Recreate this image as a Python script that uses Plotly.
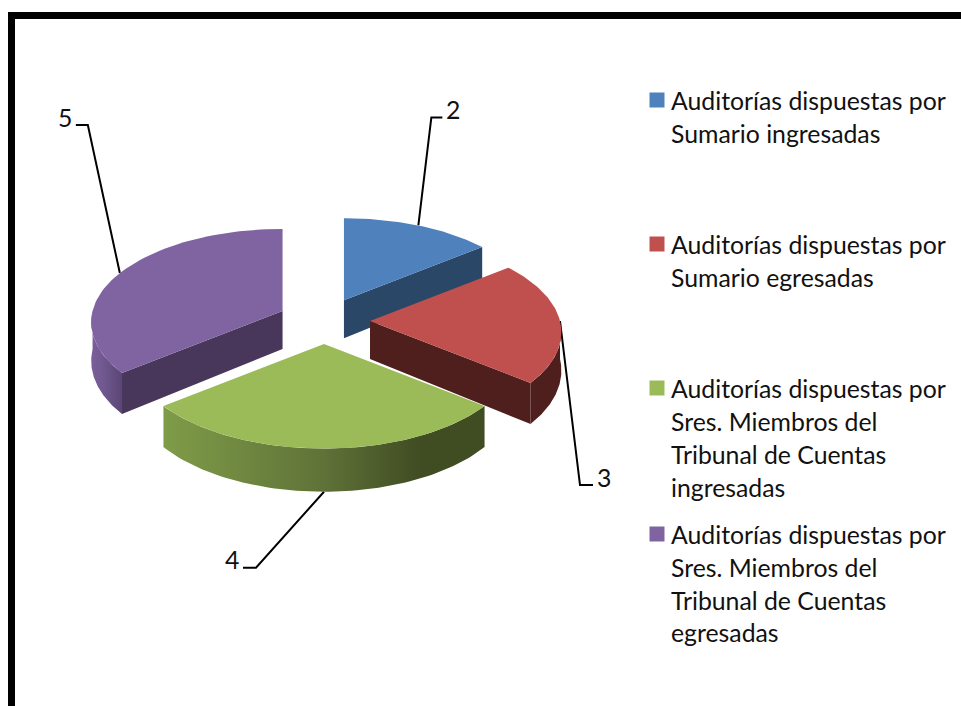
import math
import plotly.graph_objects as go

# Data
categories = [
    ["Auditorías dispuestas por", "Sumario ingresadas"],
    ["Auditorías dispuestas por", "Sumario egresadas"],
    ["Auditorías dispuestas por", "Sres. Miembros del", "Tribunal de Cuentas", "ingresadas"],
    ["Auditorías dispuestas por", "Sres. Miembros del", "Tribunal de Cuentas", "egresadas"],
]
values = [2, 3, 4, 5]

# Style
top_colors = ["#4f81bd", "#c0504d", "#9bbb59", "#8064a2"]
wall_colors = ["#2a4768", "#4f1f1d", "#404c22", "#48375a"]
rim_scales = [
    None,
    [[0, "#4f1f1d"], [1, "#4f1f1d"]],
    [[0, "#7f9c48"], [0.5, "#5f7238"], [0.8, "#404c22"], [1, "#404c22"]],
    [[0, "#7a5f9c"], [0.4, "#70588f"], [1, "#5a4674"]],
]
CX, CY, EX, EY = 324, 321, 46, 23     # pie centre and explosion
RX, RY, PERSP, DEPTH = 190, 92, 0.12, 38
FONT = "Lato"
FS = 24.8
leader_offsets = [[(13, -108), (24, -108)], [(20, 164), (33, 164)], [(-68, 76), (-81, 76)], [(-32, -148), (-44, -148)]]
leader_bottom = [False, False, True, False]
legend_y = [[100.5, 133], [244.5, 277.5], [388.5, 421, 454.5, 487.5], [534.5, 567, 600, 632.5]]
marker_y = [100, 244, 388, 534]
label_dy = -8


def proj(ang, ox, oy, r=1.0, down=0.0):
    X, Y = r * math.sin(ang), r * math.cos(ang)
    s = 1 / (1 + PERSP * Y)
    return ox + RX * X * s, oy - RY * Y * s + down * s


def arc(a0, a1, ox, oy, down=0.0, n=70):
    pts = [proj(a0 + (a1 - a0) * i / n, ox, oy, 1.0, down) for i in range(n + 1)]
    return pts


total = sum(values)
fig = go.Figure()
slices = []
acc = 0
for v in values:
    a0 = acc / total * 2 * math.pi
    acc += v
    a1 = acc / total * 2 * math.pi
    mid = (a0 + a1) / 2
    ox = CX + EX * math.sin(mid)
    oy = CY - EY * math.cos(mid)
    slices.append((a0, a1, mid, ox, oy))


def poly(pts, color=None, grad=None):
    xs = [p[0] for p in pts] + [pts[0][0]]
    ys = [p[1] for p in pts] + [pts[0][1]]
    kw = dict(x=xs, y=ys, mode="lines", fill="toself", line=dict(width=0), hoverinfo="skip", showlegend=False)
    if grad:
        kw["fillgradient"] = dict(type="horizontal", colorscale=grad, start=min(xs), stop=max(xs))
    else:
        kw["fillcolor"] = color
    fig.add_trace(go.Scatter(**kw))


# Leader lines are drawn first so that slices sit over their ends
for i in [0, 1, 2, 3]:
    a0, a1, mid, ox, oy = slices[i]
    p = proj(mid, ox, oy, 1.0, DEPTH if leader_bottom[i] else 0)
    pts = [p] + [(p[0] + dx, p[1] + dy) for dx, dy in leader_offsets[i]]
    fig.add_trace(go.Scatter(x=[q[0] for q in pts], y=[q[1] for q in pts], mode="lines",
                             line=dict(color="black", width=2), hoverinfo="skip", showlegend=False))
    end = pts[-1]
    side = 1 if leader_offsets[i][-1][0] > leader_offsets[i][0][0] else -1
    fig.add_annotation(x=end[0] + side * 11, y=end[1] + label_dy, text=str(values[i]), showarrow=False,
                       font=dict(family=FONT, size=FS, color="#111111"), xanchor="center", yanchor="middle")

# Slices, back to front
for i in [0, 3, 1, 2]:
    a0, a1, mid, ox, oy = slices[i]
    # radial wall facing the viewer
    wall_a = {0: a1, 1: a1, 3: a0}.get(i)
    if wall_a is not None:
        e = proj(wall_a, ox, oy)
        e2 = proj(wall_a, ox, oy, 1.0, DEPTH)
        poly([(ox, oy), e, e2, (ox, oy + DEPTH)], wall_colors[i])
    # outer rim, only its front part shows
    r0, r1 = max(a0, math.pi / 2), min(a1, 3 * math.pi / 2)
    if r1 > r0:
        poly(arc(r0, r1, ox, oy) + arc(r0, r1, ox, oy, DEPTH)[::-1], grad=rim_scales[i])
    # top face
    poly([(ox, oy)] + arc(a0, a1, ox, oy), top_colors[i])

# Legend
fig.add_trace(go.Scatter(x=[657] * 4, y=marker_y, mode="markers",
                         marker=dict(symbol="square", size=15, color=top_colors, line=dict(width=0)),
                         hoverinfo="skip", showlegend=False))
for lines, ys in zip(categories, legend_y):
    for t, y in zip(lines, ys):
        fig.add_annotation(x=669, y=y, text=t, showarrow=False, xanchor="left", yanchor="middle",
                           font=dict(family=FONT, size=FS, color="#111111"))

fig.update_layout(
    width=961, height=706, margin=dict(l=0, r=0, t=0, b=0),
    paper_bgcolor="white", plot_bgcolor="white", showlegend=False,
    xaxis=dict(range=[0, 961], visible=False, fixedrange=True),
    yaxis=dict(range=[706, 0], visible=False, fixedrange=True),
    shapes=[dict(type="path", path="M 11.5 720 L 11.5 15.5 L 980 15.5", xref="x", yref="y",
                 line=dict(color="black", width=7))],
)
fig.write_html("out.html", config={"displayModeBar": False},
               post_script="document.body.style.margin='0';document.documentElement.style.overflow='hidden';")
